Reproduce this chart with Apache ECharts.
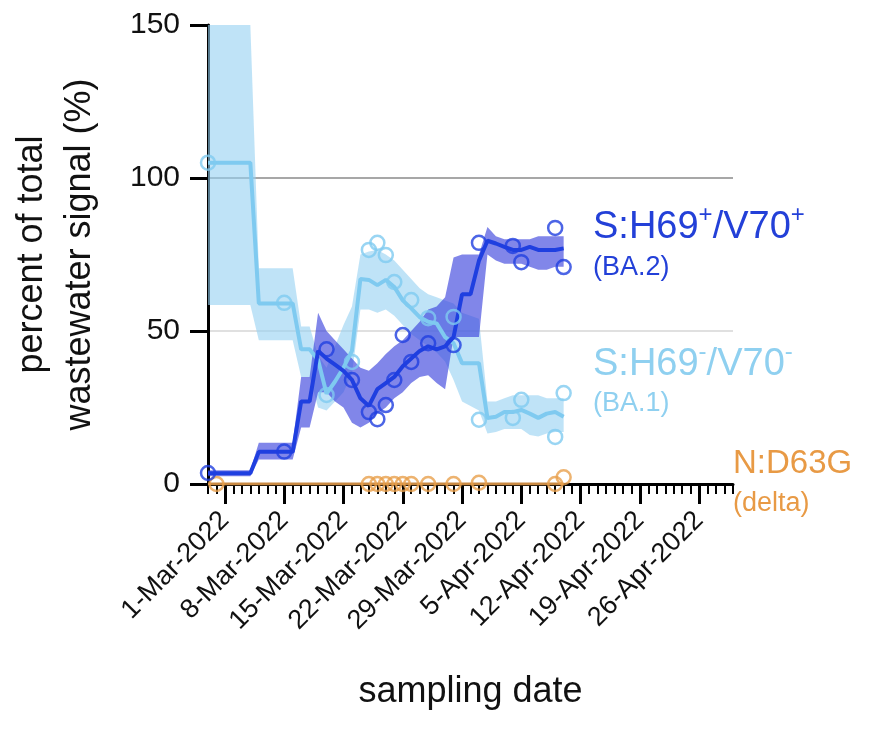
<!DOCTYPE html>
<html><head><meta charset="utf-8">
<script src="https://cdn.jsdelivr.net/npm/echarts@6/dist/echarts.min.js"></script>
<style>html,body{margin:0;padding:0;background:#fff}#c{width:884px;height:742px}</style>
</head><body><div id="c"></div>
<script>
// ---------- axis ----------
const axisStart = '2022-02-27';
const axisEnd = '2022-04-30';
const tickDates = ['2022-03-01','2022-03-08','2022-03-15','2022-03-22','2022-03-29','2022-04-05','2022-04-12','2022-04-19','2022-04-26'];
const tickLabels = ['1-Mar-2022','8-Mar-2022','15-Mar-2022','22-Mar-2022','29-Mar-2022','5-Apr-2022','12-Apr-2022','19-Apr-2022','26-Apr-2022'];
const yTicks = [0, 50, 100, 150];

// ---------- S:H69+/V70+ (BA.2) ----------
const ba2Dates  = ['2022-02-27','2022-03-08','2022-03-13','2022-03-16','2022-03-18','2022-03-19','2022-03-20','2022-03-21','2022-03-22','2022-03-23','2022-03-25','2022-03-28','2022-03-31','2022-04-04','2022-04-05','2022-04-09','2022-04-10'];
const ba2Values = [3.6,10.6,44,34,23.5,21.2,25.8,34,48.7,39.9,46,45.4,78.8,77.8,72.5,83.7,70.9];
const ba2LineDates  = ['2022-02-27','2022-03-04','2022-03-05','2022-03-09','2022-03-10','2022-03-11','2022-03-12','2022-03-13','2022-03-14','2022-03-15','2022-03-16','2022-03-17','2022-03-18','2022-03-19','2022-03-20','2022-03-21','2022-03-22','2022-03-23','2022-03-24','2022-03-25','2022-03-26','2022-03-27','2022-03-28','2022-03-29','2022-03-30','2022-03-31','2022-04-01','2022-04-02','2022-04-03','2022-04-04','2022-04-05','2022-04-06','2022-04-07','2022-04-08','2022-04-09','2022-04-10'];
const ba2LineValues = [3.5,3.5,10.5,10.5,27,27,43.5,41,39,37,34,28,25.5,31,33,35,38.5,41,43.5,45,44,45,48,62,62,73,79.5,78.6,77.5,76.5,76.5,77.5,76.5,76.5,76.5,77];
const ba2Upper = [4.5,4.5,13.5,13.5,35,35,56,50,47,44,41,38,37,39.5,42.5,45,47,50,53,57,58,61,74,75,75,75,84,81,80,80,80,80,81,81,81,81];
const ba2Lower = [2.5,2.5,8,8,18.5,18.5,30,30,27,25,20,18.5,20,23,25,28,30,33,35,35.5,33,31,48,48,48,48,75,73,72,72,72,71,70,70,71,71];

// ---------- S:H69-/V70- (BA.1) ----------
const ba1Dates  = ['2022-02-27','2022-03-08','2022-03-13','2022-03-16','2022-03-18','2022-03-19','2022-03-20','2022-03-21','2022-03-23','2022-03-25','2022-03-28','2022-03-31','2022-04-04','2022-04-05','2022-04-09','2022-04-10'];
const ba1Values = [105,59.2,29.1,39.9,76.5,78.8,74.8,66,60.1,54.2,54.6,21,21.6,27.5,15.4,29.7];
const ba1LineDates  = ['2022-02-27','2022-03-04','2022-03-05','2022-03-09','2022-03-10','2022-03-11','2022-03-12','2022-03-13','2022-03-14','2022-03-15','2022-03-16','2022-03-17','2022-03-18','2022-03-19','2022-03-20','2022-03-21','2022-03-22','2022-03-23','2022-03-24','2022-03-25','2022-03-26','2022-03-27','2022-03-28','2022-03-29','2022-03-31','2022-04-01','2022-04-02','2022-04-03','2022-04-04','2022-04-05','2022-04-06','2022-04-07','2022-04-08','2022-04-09','2022-04-10'];
const ba1LineValues = [105,105,59,59,44,44,40.5,29.5,33.5,38,43.5,67,66.7,65,66.7,64.4,60,57.4,54.5,53,52.5,48,46,39.5,39.5,21.6,22,23.5,23.5,24.2,23,21.6,23,23.5,22];
const ba1Upper = [150,150,70.5,70.5,51.5,51.5,42,38,45,52,58,75,76,76.5,75,73,70,67,64,62,61,60,59,56,54,27,27,28,29,29,29,29,28,28,28];
const ba1Lower = [58.5,58.5,47,47,35,35,25,24,27,30,36,57,57,56,57,55,52,49,47,45,43,40,34,27,24,16.5,17,18,18,18,16,15.5,16.5,17,17];

// ---------- N:D63G (delta) ----------
const deltaDates  = ['2022-02-28','2022-03-18','2022-03-19','2022-03-20','2022-03-21','2022-03-22','2022-03-23','2022-03-25','2022-03-28','2022-03-31','2022-04-09','2022-04-10'];
const deltaValues = [0,0,0,0,0,0,0,0,0,0.4,0,2.2];
const deltaLineDates  = ['2022-02-27','2022-04-10'];
const deltaLineValues = [0,0];

// ---------- helpers ----------
function dayOf(s){const p=s.split('-').map(Number);return (Date.UTC(p[0],p[1]-1,p[2])-Date.UTC(2022,2,1))/864e5;}
function pairs(ds, vs){return ds.map((d,i)=>[dayOf(d), vs[i]]);}
const FONT = "'Liberation Sans', Arial, Helvetica, sans-serif";
const tickDays = tickDates.map(dayOf);

function band(dates, up, lo, fill){
  const pts = pairs(dates, up).concat(pairs(dates, lo).reverse());
  return {
    type:'custom', silent:true, z:1, xAxisIndex:0, yAxisIndex:0,
    data: pts,
    renderItem: function(params, api){
      if (params.dataIndex !== 0) return null;
      const points = pts.map(p => api.coord(p));
      return {type:'polygon', shape:{points:points}, style:{fill:fill}};
    }
  };
}
function line(ds, vs, color, w){
  return {type:'line', data:pairs(ds,vs), symbol:'none', z:3, lineStyle:{color:color,width:w}, itemStyle:{color:color}, silent:true};
}
function dots(ds, vs, color){
  return {type:'scatter', data:pairs(ds,vs), symbol:'circle', symbolSize:14, z:4,
    itemStyle:{color:'rgba(255,255,255,0)', borderColor:color, borderWidth:2.5}, silent:true};
}

const C_BA2 = '#1f3fe0', C_BA2_BAND = 'rgba(52,60,220,0.62)';
const C_BA1 = '#7fcaf0', C_BA1_BAND = 'rgba(148,208,242,0.6)';
const C_DELTA = '#e8a04c', C_DELTA_LINE = '#c98a44';

const chart = echarts.init(document.getElementById('c'), null, {renderer:'canvas'});
chart.setOption({
  animation:false,
  backgroundColor:'#fff',
  textStyle:{fontFamily:FONT},
  grid:{left:204, right:151, top:25, bottom:258, containLabel:false},
  xAxis:[
    {type:'value', min:dayOf(axisStart), max:dayOf(axisEnd), interval:1, position:'bottom',
     axisLine:{show:true, onZero:false, lineStyle:{color:'#000', width:3}},
     axisTick:{show:true, length:10, lineStyle:{color:'#000', width:2}},
     axisLabel:{show:false}, splitLine:{show:false}},
    {type:'value', min:dayOf(axisStart), max:dayOf(axisEnd), position:'bottom',
     axisLine:{show:false, onZero:false},
     axisTick:{show:true, customValues:tickDays, length:20, lineStyle:{color:'#000', width:3}},
     axisLabel:{show:true, customValues:tickDays, rotate:45, fontSize:27, margin:32, color:'#111', fontFamily:FONT,
       formatter:function(v){const i=tickDays.indexOf(v);return i>=0?tickLabels[i]:'';}},
     splitLine:{show:false},
     name:'sampling date', nameLocation:'middle', nameGap:190,
     nameTextStyle:{fontSize:36, color:'#111', fontFamily:FONT}}
  ],
  yAxis:{type:'value', min:yTicks[0], max:yTicks[yTicks.length-1], interval:50,
    axisLine:{show:true, onZero:false, lineStyle:{color:'#000', width:3}},
    axisTick:{show:true, length:18, lineStyle:{color:'#000', width:3}},
    axisLabel:{fontSize:30, margin:28, color:'#111', fontFamily:FONT},
    splitLine:{show:true, lineStyle:{color:['rgba(0,0,0,0)','#d6d6d6','#8a8a8a','rgba(0,0,0,0)'], width:1.5}},
    name:'percent of total\nwastewater signal (%)', nameLocation:'middle', nameGap:104,
    nameTextStyle:{fontSize:36, lineHeight:48, color:'#111', fontFamily:FONT}},
  series:[
    band(ba1LineDates, ba1Upper, ba1Lower, C_BA1_BAND),
    band(ba2LineDates, ba2Upper, ba2Lower, C_BA2_BAND),
    line(ba1LineDates, ba1LineValues, C_BA1, 4),
    line(deltaLineDates, deltaLineValues, C_DELTA_LINE, 3),
    line(ba2LineDates, ba2LineValues, C_BA2, 4),
    dots(ba1Dates, ba1Values, C_BA1),
    dots(deltaDates, deltaValues, C_DELTA),
    dots(ba2Dates, ba2Values, C_BA2)
  ],
  graphic:[
    {type:'text', left:593, top:203, style:{text:'{m|S:H69}{s|+}{m|/V70}{s|+}', fontFamily:FONT,
      rich:{m:{fontSize:38, fill:'#2340d8', lineHeight:44, verticalAlign:'bottom'}, s:{fontSize:24, fill:'#2340d8', lineHeight:24, verticalAlign:'top'}}}},
    {type:'text', left:593, top:254, style:{text:'(BA.2)', fontSize:27, fill:'#2340d8', fontFamily:FONT}},
    {type:'text', left:593, top:340, style:{text:'{m|S:H69}{s|-}{m|/V70}{s|-}', fontFamily:FONT,
      rich:{m:{fontSize:38, fill:'#8fd0f0', lineHeight:44, verticalAlign:'bottom'}, s:{fontSize:24, fill:'#8fd0f0', lineHeight:24, verticalAlign:'top'}}}},
    {type:'text', left:593, top:390, style:{text:'(BA.1)', fontSize:27, fill:'#8fd0f0', fontFamily:FONT}},
    {type:'text', left:733, top:447, style:{text:'N:D63G', fontSize:33, fill:'#e89a45', fontFamily:FONT}},
    {type:'text', left:733, top:490, style:{text:'(delta)', fontSize:27, fill:'#e89a45', fontFamily:FONT}}
  ]
});
</script></body></html>
